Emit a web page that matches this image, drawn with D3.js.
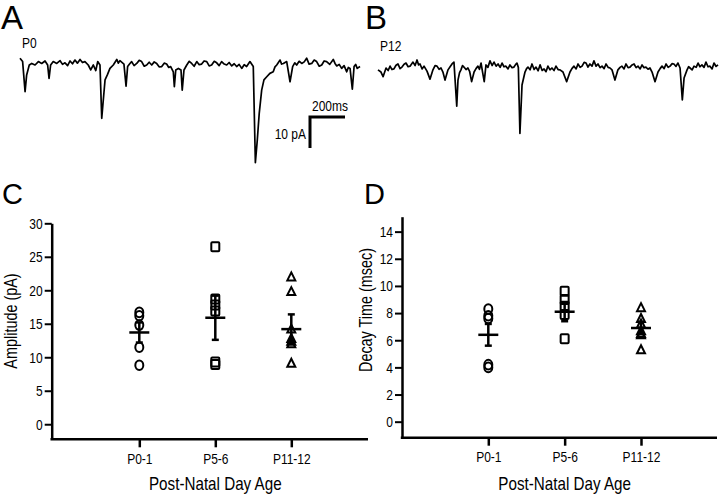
<!DOCTYPE html>
<html>
<head>
<meta charset="utf-8">
<script src="https://cdn.jsdelivr.net/npm/d3@7"></script>
<style>
body { margin: 0; background: #fff; }
svg { display: block; font-family: "Liberation Sans Narrow", "Arial Narrow", "Liberation Sans", sans-serif; }
</style>
</head>
<body>
<svg id="fig" width="720" height="498"></svg>
<script>
// ---- data ----
var groups = ["P0-1", "P5-6", "P11-12"];

// panel C: amplitude (pA)
var ampP0 = [16.7, 16.2, 14.8, 11.5, 8.8];
var ampP5 = [26.5, 18.7, 17.8, 16.9, 9.3, 8.9];
var ampP11 = [22.0, 19.8, 14.2, 12.8, 12.4, 12.0, 9.1];
var ampMean = [13.7, 15.9, 14.2];
var ampSem = [1.5, 3.3, 2.2];
var ampTicks = [0, 5, 10, 15, 20, 25, 30];

// panel D: decay time (msec)
var decP0 = [8.3, 7.8, 7.6, 4.2, 4.0];
var decP5 = [9.6, 9.0, 8.5, 7.9, 6.1];
var decP11 = [8.4, 7.6, 7.2, 6.7, 6.5, 6.4, 5.3];
var decMean = [6.4, 8.1, 6.9];
var decSem = [0.8, 0.7, 0.45];
var decTicks = [0, 2, 4, 6, 8, 10, 12, 14];

// example traces: [time ms, current pA]
var traceP0 = [[0,2.2],[15,1.1],[29,-8.6],[38,-3.2],[53,0],[67,0.5],[86,0],[105,1.1],[124,0.5],[143,1.3],[158,0],[166,-4.3],[175,0],[190,1.1],[210,0.5],[229,1.4],[243,0.2],[257,0.7],[272,-0.2],[286,1.3],[300,0.4],[314,1.6],[328,0.6],[343,1.8],[357,0.8],[371,1.1],[390,0],[404,-1.6],[419,0],[433,-1.8],[444,1.1],[457,0],[467,-17.2],[476,-11.3],[486,-4.8],[499,-3.2],[514,-1.1],[533,0],[543,0.9],[553,1.8],[562,0.6],[571,1.4],[594,0.3],[606,-6.8],[615,-0.5],[627,0.4],[638,1.1],[652,-0.2],[667,0.5],[681,1.5],[695,1.1],[710,-0.4],[724,0],[738,0.9],[753,0],[767,1.0],[781,0.5],[795,-0.6],[810,-0.5],[824,0.6],[838,0.3],[850,-0.8],[861,-0.5],[876,-2.2],[882,-7.0],[890,-1.6],[905,-1.1],[920,-1.6],[927,-8.1],[937,-1.6],[953,0],[967,1.2],[981,0.5],[995,-0.4],[1010,1.1],[1024,0.1],[1038,0.3],[1052,1.3],[1067,1.1],[1081,-0.3],[1095,0],[1110,1.2],[1124,0.7],[1138,-0.2],[1152,1.1],[1167,0.3],[1181,0],[1195,0.8],[1210,-0.3],[1224,0.4],[1238,-0.5],[1252,0.2],[1267,-1.1],[1281,0.1],[1295,-0.5],[1314,1.1],[1333,-0.5],[1345,-31.5],[1356,-24.2],[1367,-15.6],[1381,-8.1],[1394,-4.8],[1410,-3.8],[1428,-2.7],[1447,-2.2],[1457,-0.6],[1467,0],[1486,1.6],[1495,0.3],[1505,0.5],[1524,1.1],[1543,-5.4],[1558,-0.5],[1570,0.7],[1581,0],[1595,1.2],[1610,0.5],[1624,1.0],[1638,2.2],[1652,0.3],[1667,0.5],[1681,1.6],[1695,1.1],[1710,-0.4],[1724,0],[1738,1.3],[1752,1.1],[1770,0.2],[1790,1.8],[1800,0.5],[1810,-0.3],[1824,0.2],[1838,-1.1],[1852,-0.2],[1867,-2.2],[1876,-0.8],[1886,-1.1],[1899,-7.8],[1909,-0.5],[1918,0.2],[1927,-1.1],[1943,-0.5]];

var traceP12 = [[0,-0.6],[17,-1.3],[29,-2.8],[46,0],[58,-0.8],[69,0.6],[80,-0.5],[91,-0.3],[103,0.9],[114,1.3],[126,-0.2],[137,0.3],[149,1.2],[160,1.6],[172,0.4],[183,0.6],[200,1.9],[212,0.8],[223,2.6],[232,1.0],[240,1.3],[252,-0.3],[263,0.6],[280,-1.0],[297,-3.6],[314,-0.6],[326,0.8],[337,0.6],[349,-0.4],[360,0],[371,-1.3],[383,-3.9],[400,-0.6],[412,0.4],[423,1.3],[434,1.9],[450,-12.3],[457,-3.9],[466,-1.5],[474,-0.6],[483,0.8],[491,0.3],[503,-0.5],[514,0],[524,-1.2],[535,-4.4],[549,-1.3],[560,-0.2],[571,0.6],[580,-0.4],[589,1.6],[598,-1.5],[607,-4.4],[617,1.0],[628,0.2],[640,2.3],[652,0.8],[663,1.9],[675,0.6],[686,1.3],[698,0.2],[709,1.6],[720,0.4],[731,0.6],[743,-0.3],[754,1.0],[766,0.1],[777,0.3],[786,1.1],[794,1.6],[802,0.2],[811,-21.1],[823,-5.5],[840,-1.3],[849,-0.2],[857,0.3],[869,-0.6],[880,1.3],[892,-0.5],[903,0.3],[915,-0.9],[926,1.0],[938,-0.8],[949,-0.3],[960,-1.2],[971,0.6],[983,-0.6],[994,0],[1006,-0.8],[1017,0.6],[1029,-0.5],[1040,-0.6],[1057,-1.3],[1078,-4.4],[1097,-1.3],[1108,-0.2],[1120,0.6],[1132,-0.3],[1143,1.3],[1155,0.2],[1166,0.6],[1178,1.8],[1189,1.6],[1200,0.3],[1211,1.3],[1223,0.6],[1234,2.3],[1246,0.6],[1257,1.3],[1269,0.1],[1280,0.6],[1292,-0.2],[1303,1.3],[1315,0.2],[1326,0],[1337,-0.6],[1354,-3.9],[1371,-0.6],[1383,0.2],[1394,0.6],[1406,-0.3],[1417,1.3],[1429,0.1],[1440,0.3],[1452,1.0],[1463,1.3],[1475,0.1],[1486,0.6],[1498,-0.3],[1509,1.0],[1520,0.1],[1531,0.3],[1543,-0.4],[1554,0],[1566,-1.3],[1583,-4.4],[1600,-1.3],[1612,-0.2],[1623,0.6],[1635,-0.2],[1646,1.3],[1658,0.2],[1669,0.6],[1680,1.4],[1691,1.3],[1703,0.5],[1714,1.6],[1726,0],[1739,-10.3],[1749,-3.2],[1766,-0.6],[1775,0.4],[1783,0],[1795,-0.6],[1806,0.6],[1818,0.2],[1829,1.6],[1840,0.4],[1851,1.0],[1863,0.2],[1874,1.9],[1886,0.4],[1897,0.6],[1909,-0.3],[1920,1.6],[1932,0.5],[1943,1.0]];

var svg = d3.select("#fig");

// ---- panel letters ----
function letter(txt, x, y, size) {
  svg.append("text").attr("class", "letter").attr("x", x).attr("y", y)
    .attr("font-family", "Liberation Sans, Arial, sans-serif")
    .attr("font-size", size).text(txt);
}
letter("A", 1, 29, 33);
letter("B", 365, 29, 33);
letter("C", 2, 204, 29);
letter("D", 364, 204, 29);

// ---- traces ----
function drawTrace(data, x0, y0, label) {
  var x = d3.scaleLinear().domain([0, 1960]).range([x0, x0 + 343]);
  var y = d3.scaleLinear().domain([-35, 5]).range([y0 + 108.5, y0 - 15.5]);
  svg.append("path").datum(data)
    .attr("fill", "none").attr("stroke", "#000").attr("stroke-width", 1.7)
    .attr("stroke-linejoin", "round")
    .attr("d", d3.line().x(function (d) { return x(d[0]); }).y(function (d) { return y(d[1]); }));
  svg.append("text").attr("x", x0 + 2).attr("y", y0 - 17).attr("font-size", 15).text(label);
  return { x: x, y: y };
}
var sA = drawTrace(traceP0, 20, 65, "P0");
drawTrace(traceP12, 378, 68, "P12");

// scale bar: 200 ms, 10 pA
var barW = sA.x(200) - sA.x(0), barH = sA.y(-10) - sA.y(0);
svg.append("path")
  .attr("d", "M" + (310 + barW) + ",117 H310 V" + (117 + barH))
  .attr("fill", "none").attr("stroke", "#000").attr("stroke-width", 3);
svg.append("text").attr("x", 312).attr("y", 111).attr("font-size", 15).text("200ms");
svg.append("text").attr("x", 306).attr("y", 139).attr("font-size", 15)
  .attr("text-anchor", "end").text("10 pA");

// ---- scatter panels ----
function marker(g, shape, cx, cy) {
  if (shape === 0) {
    g.append("ellipse").attr("cx", cx).attr("cy", cy).attr("rx", 4).attr("ry", 4.8);
  } else if (shape === 1) {
    g.append("rect").attr("x", cx - 4).attr("y", cy - 4.5).attr("width", 8).attr("height", 9).attr("rx", 1);
  } else {
    g.append("path").attr("d", "M" + cx + "," + (cy - 4.5) + "L" + (cx + 4) + "," + (cy + 3.5) + "L" + (cx - 4) + "," + (cy + 3.5) + "Z");
  }
}

function drawScatter(p) {
  var g = svg.append("g");
  var x = d3.scalePoint().domain(groups).range([p.cx0, p.cx1]);
  var y = d3.scaleLinear().domain(p.yDomain).range([p.bottom, p.top]);

  var ya = g.append("g").attr("transform", "translate(" + p.left + ",0)")
    .call(d3.axisLeft(y).tickValues(p.ticks).tickSize(7).tickPadding(2).tickSizeOuter(0));
  ya.attr("font-family", null).attr("font-size", 15);
  ya.select(".domain").attr("stroke-width", 2.5);
  ya.selectAll(".tick line").attr("stroke-width", 2);

  var xa = g.append("g").attr("transform", "translate(0," + p.bottom + ")")
    .call(d3.axisBottom(x).tickSize(8).tickPadding(6));
  xa.attr("font-family", null).attr("font-size", 15);
  xa.select(".domain").remove();
  xa.selectAll(".tick line").attr("stroke-width", 2.5);
  xa.append("line").attr("x1", p.left - 1.2).attr("x2", p.right).attr("stroke", "#000").attr("stroke-width", 2.5);

  g.append("text").attr("transform", "translate(" + p.ylabX + "," + p.ylabY + ") rotate(-90)")
    .attr("text-anchor", "middle").attr("font-size", 18).text(p.ylabel);
  g.append("text").attr("x", (p.cx0 + p.cx1) / 2).attr("y", 490)
    .attr("text-anchor", "middle").attr("font-size", 19).text("Post-Natal Day Age");

  var mk = g.append("g").attr("fill", "none").attr("stroke", "#000").attr("stroke-width", 2);
  p.values.forEach(function (vals, i) {
    vals.forEach(function (v) { marker(mk, i, x(groups[i]), y(v)); });
  });

  var eb = g.append("g").attr("stroke", "#000").attr("stroke-width", 2.5);
  groups.forEach(function (c, i) {
    var cx = x(c), m = p.mean[i], s = p.sem[i];
    eb.append("line").attr("x1", cx - 10).attr("x2", cx + 10).attr("y1", y(m)).attr("y2", y(m));
    eb.append("line").attr("x1", cx).attr("x2", cx).attr("y1", y(m - s)).attr("y2", y(m + s));
    eb.append("line").attr("x1", cx - 3.5).attr("x2", cx + 3.5).attr("y1", y(m + s)).attr("y2", y(m + s));
    eb.append("line").attr("x1", cx - 3.5).attr("x2", cx + 3.5).attr("y1", y(m - s)).attr("y2", y(m - s));
  });
}

drawScatter({
  left: 51.7, right: 368, top: 223.3, bottom: 439.3, cx0: 139.3, cx1: 291.3,
  yDomain: [-2.25, 30], ticks: ampTicks,
  values: [ampP0, ampP5, ampP11], mean: ampMean, sem: ampSem,
  ylabel: "Amplitude (pA)", ylabX: 17, ylabY: 321
});
drawScatter({
  left: 402, right: 717, top: 216.7, bottom: 437.7, cx0: 488.3, cx1: 641,
  yDomain: [-1.18, 15.1], ticks: decTicks,
  values: [decP0, decP5, decP11], mean: decMean, sem: decSem,
  ylabel: "Decay Time (msec)", ylabX: 372, ylabY: 310
});

// no narrow face installed: squeeze the label text horizontally
svg.selectAll("text:not(.letter)").each(function () {
  var len = this.getComputedTextLength();
  d3.select(this).attr("textLength", len * 0.8).attr("lengthAdjust", "spacingAndGlyphs");
});
</script>
</body>
</html>
